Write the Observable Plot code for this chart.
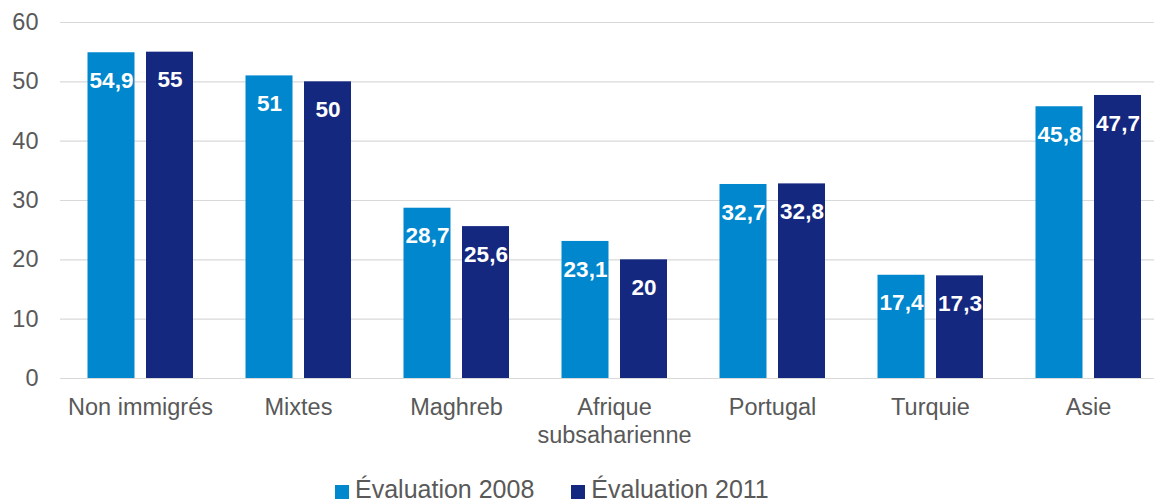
<!DOCTYPE html>
<html>
<head>
<meta charset="utf-8">
<script src="https://cdn.jsdelivr.net/npm/d3@7"></script>
<script src="https://cdn.jsdelivr.net/npm/@observablehq/plot@0.6"></script>
<style>
  html, body { margin: 0; padding: 0; background: #fff; overflow: hidden; }
  body { width: 1154px; height: 502px; position: relative; font-family: "Liberation Sans", Arial, sans-serif; }
  #legend { position: absolute; left: 335px; top: 474px; display: flex; align-items: center; font-size: 25px; color: #595959; line-height: 30px; }
  #legend .item { display: flex; align-items: center; margin-right: 37px; }
  #legend .sw { width: 14px; height: 14px; margin-right: 6px; margin-top: 5px; }
</style>
</head>
<body>
<div id="chart"></div>
<div id="legend"></div>
<script>
const categories = ["Non immigrés", "Mixtes", "Maghreb", "Afrique\nsubsaharienne", "Portugal", "Turquie", "Asie"];
const values2008 = [54.9, 51, 28.7, 23.1, 32.7, 17.4, 45.8];
const values2011 = [55, 50, 25.6, 20, 32.8, 17.3, 47.7];
const seriesNames = ["Évaluation 2008", "Évaluation 2011"];
const seriesColors = ["#0087cd", "#15287f"];
const yTicks = [0, 10, 20, 30, 40, 50, 60];

const d2008 = categories.map((c, i) => ({category: c, value: values2008[i]}));
const d2011 = categories.map((c, i) => ({category: c, value: values2011[i]}));
const fmt = v => String(v).replace(".", ",");

const labelStyle = {fill: "white", fontWeight: "bold", fontSize: 22.5, dy: 28};

const plot = Plot.plot({
  width: 1154,
  height: 462,
  marginTop: 22,
  marginBottom: 84,
  marginLeft: 60,
  marginRight: 0,
  style: {fontFamily: "Liberation Sans, Arial, sans-serif", color: "#595959", background: "white", overflow: "visible"},
  x: {type: "band", domain: categories, range: [60, 1167], padding: 0, label: null},
  y: {domain: [0, 60], range: [378, 22], label: null},
  marks: [
    Plot.ruleY(yTicks, {stroke: "#d9d9d9", strokeWidth: 1.2}),
    Plot.barY(d2008, {x: "category", y: "value", fill: seriesColors[0], insetLeft: 26.5, insetRight: 84.5}),
    Plot.barY(d2011, {x: "category", y: "value", fill: seriesColors[1], insetLeft: 85, insetRight: 26}),
    Plot.text(d2008, {x: "category", y: "value", text: d => fmt(d.value), dx: -29, ...labelStyle}),
    Plot.text(d2011, {x: "category", y: "value", text: d => fmt(d.value), dx: 29.5, ...labelStyle}),
    Plot.axisY({ticks: yTicks, tickSize: 0, tickPadding: 22, fontSize: 23.5, fill: "#595959", label: null}),
    Plot.axisX({tickSize: 0, tickPadding: 16, fontSize: 23.5, fill: "#595959", lineHeight: 1.2, label: null})
  ]
});
document.getElementById("chart").appendChild(plot);

const legend = document.getElementById("legend");
seriesNames.forEach((name, i) => {
  const item = document.createElement("div");
  item.className = "item";
  const sw = document.createElement("span");
  sw.className = "sw";
  sw.style.background = seriesColors[i];
  const t = document.createElement("span");
  t.textContent = name;
  item.appendChild(sw);
  item.appendChild(t);
  legend.appendChild(item);
});
</script>
</body>
</html>
